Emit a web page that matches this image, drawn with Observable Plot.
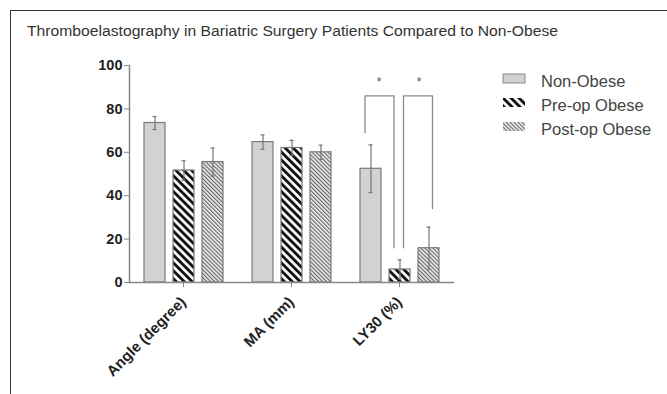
<!DOCTYPE html>
<html>
<head>
<meta charset="utf-8">
<script src="https://cdn.jsdelivr.net/npm/d3@7"></script>
<script src="https://cdn.jsdelivr.net/npm/@observablehq/plot@0.6"></script>
<style>
  html, body { margin: 0; padding: 0; background: #fff; }
  #wrap { position: relative; width: 667px; height: 394px; overflow: hidden; background: #fff;
          font-family: "Liberation Sans", Arial, sans-serif; }
  #frame { position: absolute; left: 10px; top: 10px; right: -10px; bottom: -10px;
           border-top: 1.5px solid #333; border-left: 1.5px solid #333; }
  #title { position: absolute; left: 27px; top: 24px; font-size: 14px; line-height: 14px; color: #333;
           white-space: nowrap; transform-origin: 0 0; }
  #chart { position: absolute; left: 0; top: 45px; }
  #legend { position: absolute; left: 495px; top: 60px; }
</style>
</head>
<body>
<svg width="0" height="0" style="position:absolute">
  <defs>
    <pattern id="pat-pre" patternUnits="userSpaceOnUse" width="5.6" height="5.6" patternTransform="rotate(-45)">
      <rect width="5.6" height="5.6" fill="#fff"></rect>
      <rect width="2.9" height="5.6" fill="#111"></rect>
    </pattern>
    <pattern id="pat-post" patternUnits="userSpaceOnUse" width="2.8" height="2.8" patternTransform="rotate(-45)">
      <rect width="2.8" height="2.8" fill="#f4f4f4"></rect>
      <rect width="1.2" height="2.8" fill="#666"></rect>
    </pattern>
  </defs>
</svg>
<div id="wrap">
  <div id="frame"></div>
  <div id="title">Thromboelastography in Bariatric Surgery Patients Compared to Non-Obese</div>
  <div id="chart"></div>
  <div id="legend"></div>
</div>
<script>
// ---- data ----
const categories = ["Angle (degree)", "MA (mm)", "LY30 (%)"];
const series = ["Non-Obese", "Pre-op Obese", "Post-op Obese"];
const nonObese = [73.5, 64.7, 52.4];
const nonObeseErr = [3, 3.3, 11];
const preOp = [51.6, 62, 6];
const preOpErr = [4.5, 3.5, 4.4];
const postOp = [55.5, 60, 15.8];
const postOpErr = [6.5, 3.3, 9.7];
const yTicks = [0, 20, 40, 60, 80, 100];
const fills = ["#d2d2d2", "url(#pat-pre)", "url(#pat-post)"];
// significance brackets in LY30 group
const brackets = [
  {cat: "LY30 (%)", from: "Non-Obese", to: "Pre-op Obese", yFrom: 69, yTo: 16, top: 86, star: 92.5, label: "*"},
  {cat: "LY30 (%)", from: "Pre-op Obese", to: "Post-op Obese", yFrom: 16, yTo: 34, top: 86, star: 92.5, label: "*"}
];

// ---- build rows ----
const means = [nonObese, preOp, postOp];
const errs = [nonObeseErr, preOpErr, postOpErr];
const rows = [];
categories.forEach((c, i) => series.forEach((s, j) => rows.push({cat: c, series: s, value: means[j][i], err: errs[j][i]})));

const bracketPath = b => [
  {cat: b.cat, s: b.from, y: b.yFrom},
  {cat: b.cat, s: b.from, y: b.top},
  {cat: b.cat, s: b.to, y: b.top},
  {cat: b.cat, s: b.to, y: b.yTo}
];

const plot = Plot.plot({
  width: 667,
  height: 349,
  marginLeft: 128,
  marginRight: 213,
  marginTop: 20,
  marginBottom: 112,
  fx: {domain: categories, paddingInner: 0, paddingOuter: 0, label: null},
  x: {domain: series, paddingInner: 0.28, paddingOuter: 0.45, axis: null},
  y: {domain: [0, 100]},
  color: {domain: series, range: fills},
  style: {fontFamily: "'Liberation Sans', Arial, sans-serif", color: "#222", background: "transparent", overflow: "visible"},
  marks: [
    Plot.barY(rows, {fx: "cat", x: "series", y: "value", fill: "series", stroke: "#7a7a7a", strokeWidth: 1.2}),
    Plot.ruleX(rows, {fx: "cat", x: "series", y1: d => d.value - d.err, y2: d => d.value + d.err, stroke: "#777", strokeWidth: 1.2}),
    Plot.tickY(rows, {fx: "cat", x: "series", y: d => d.value + d.err, insetLeft: 8.5, insetRight: 8.5, stroke: "#777", strokeWidth: 1.2}),
    Plot.tickY(rows, {fx: "cat", x: "series", y: d => d.value - d.err, insetLeft: 8.5, insetRight: 8.5, stroke: "#777", strokeWidth: 1.2}),
    Plot.line(bracketPath(brackets[0]), {fx: "cat", x: "s", y: "y", dx: -6, stroke: "#8a8a8a", strokeWidth: 1.3}),
    Plot.line(bracketPath(brackets[1]), {fx: "cat", x: "s", y: "y", dx: 3.5, stroke: "#8a8a8a", strokeWidth: 1.3}),
    Plot.text([brackets[0]], {fx: "cat", x: "to", y: "star", text: "label", dx: -21, fontSize: 12, fill: "#555"}),
    Plot.text([brackets[1]], {fx: "cat", x: "from", y: "star", text: "label", dx: 19, fontSize: 12, fill: "#555"}),
    Plot.frame({anchor: "left", facet: "super", stroke: "#888", strokeWidth: 1.5}),
    Plot.frame({anchor: "bottom", facet: "super", stroke: "#888", strokeWidth: 1.5}),
    Plot.axisY({ticks: yTicks, tickSize: 5, tickPadding: 2, fontSize: 14.5, fontWeight: "bold", stroke: "#888", fill: "#222", label: null}),
    Plot.axisFx({anchor: "bottom", tickSize: 5, tickRotate: -45, tickPadding: 12, fontSize: 15, fontWeight: "bold", stroke: "#888", fill: "#222", label: null})
  ]
});
document.getElementById("chart").appendChild(plot);

// title horizontal fit
const title = document.getElementById("title");
const tw = title.getBoundingClientRect().width;
title.style.transform = `scaleX(${531 / tw})`;

// ---- legend ----
const leg = d3.select("#legend").append("svg").attr("width", 172).attr("height", 90)
  .style("font-family", "'Liberation Sans', Arial, sans-serif");
const rowsL = leg.selectAll("g").data(series).join("g")
  .attr("transform", (d, i) => `translate(0, ${24 * i})`);
rowsL.append("rect").attr("x", 8).attr("y", 14).attr("width", 22).attr("height", 9)
  .attr("fill", (d, i) => fills[i]).attr("stroke", (d, i) => i === 0 ? "#888" : "none");
rowsL.append("text").attr("x", 46).attr("y", 26.5).attr("font-size", 16.5).attr("fill", "#444").text(d => d);
</script>
</body>
</html>
